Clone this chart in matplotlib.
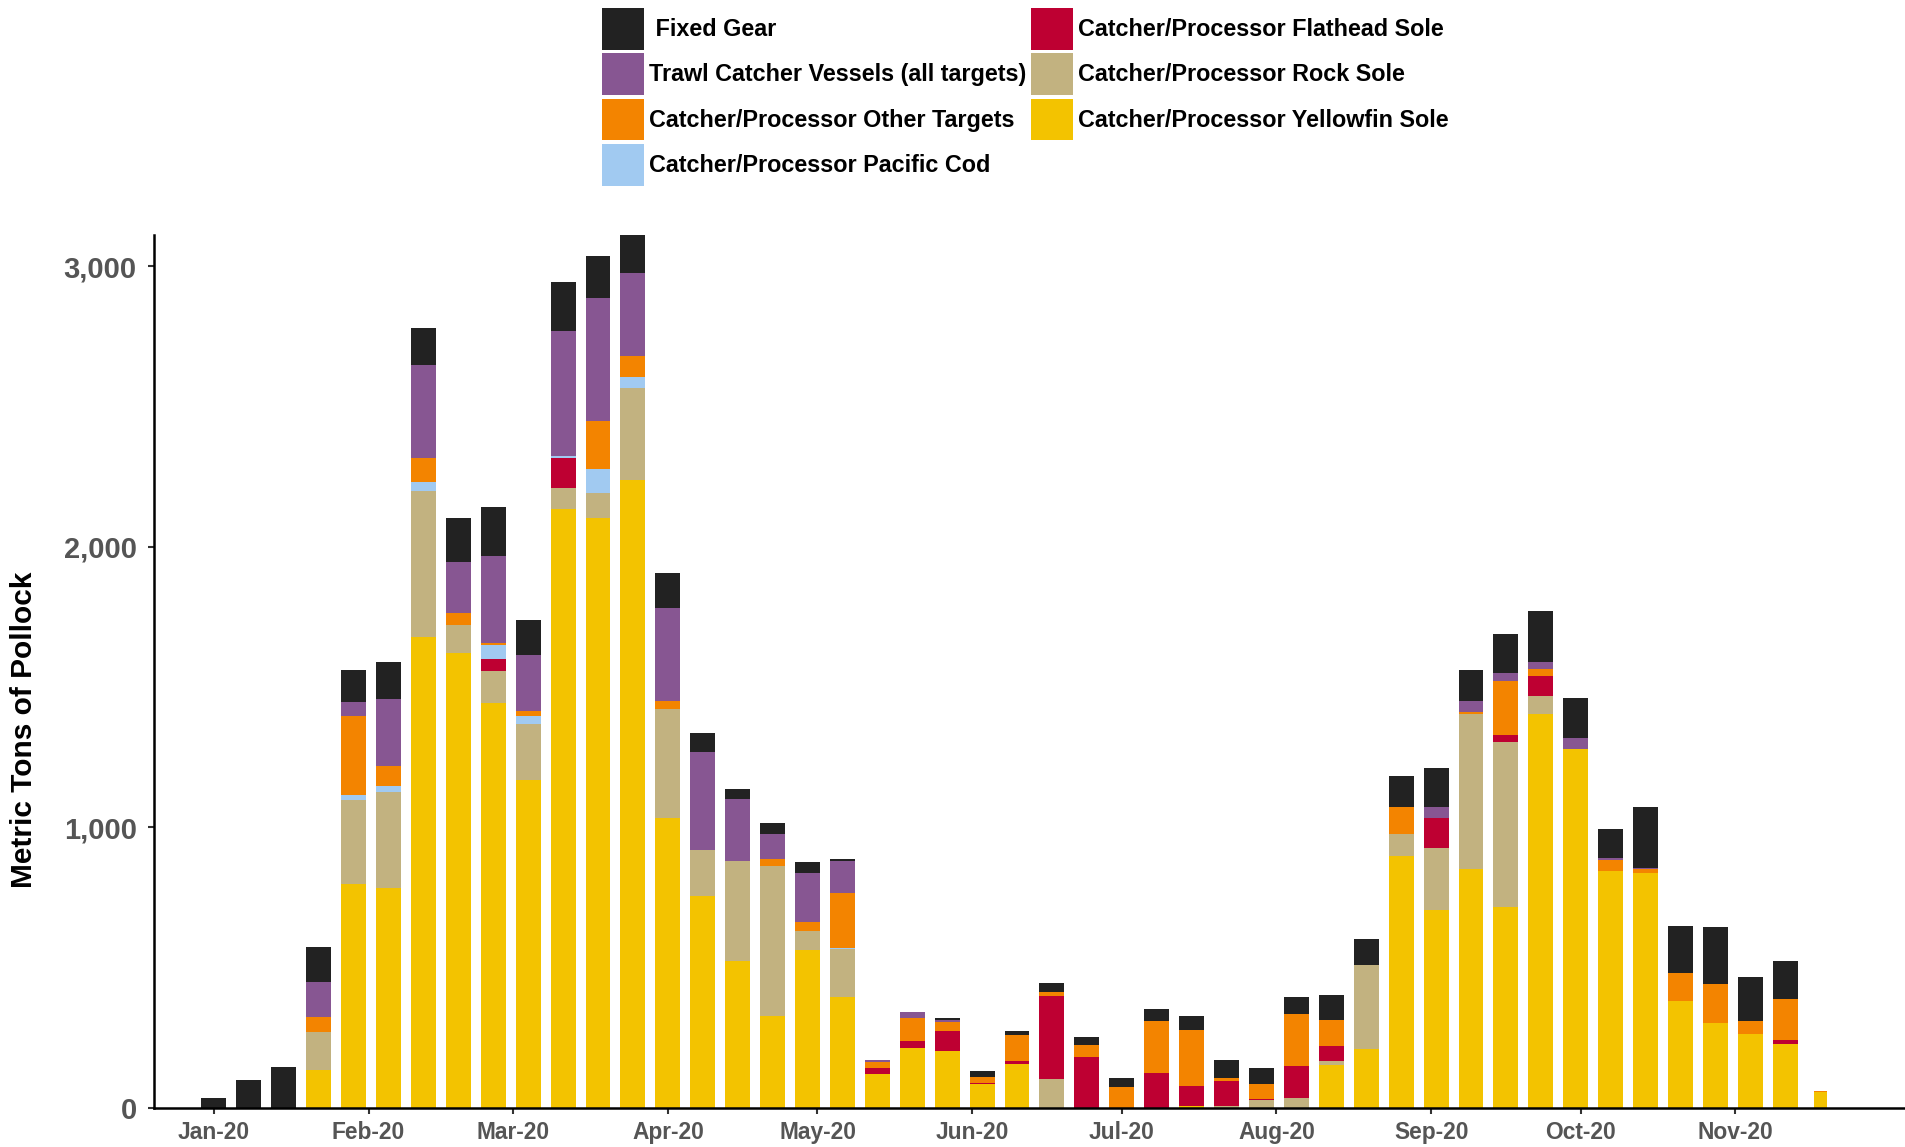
import matplotlib
matplotlib.use("Agg")
import matplotlib.pyplot as plt
import matplotlib.dates as mdates
import numpy as np
import datetime as dt

plt.rcParams['font.family'] = ['Liberation Sans', 'DejaVu Sans']

# ---- data (metric tons of pollock, weekly) ----
week_start = "2020-01-01"
n_weeks = 47

yellowfin = [0, 0, 0, 137, 799, 783, 1678, 1621, 1445, 1169, 2136, 2103, 2238, 1034,
             756, 525, 329, 564, 394, 122, 215, 204, 87, 158, 0, 0, 0, 0, 8, 0,
             0, 0, 153, 211, 897, 705, 852, 717, 1404, 1279, 846, 838, 382, 304, 262, 229, 57]
rock_sole = [0, 0, 0, 135, 300, 343, 521, 100, 112, 200, 73, 88, 327, 388,
             164, 356, 535, 67, 174, 0, 0, 0, 0, 0, 105, 0, 0, 0, 0, 8,
             30, 37, 16, 300, 78, 223, 552, 589, 65, 0, 0, 0, 0, 0, 0, 0, 0]
flathead = [0, 0, 0, 0, 0, 0, 0, 0, 43, 0, 106, 0, 0, 0,
            0, 0, 0, 0, 0, 22, 25, 72, 3, 11, 295, 183, 0, 126, 72, 89,
            3, 114, 53, 0, 0, 106, 0, 24, 72, 0, 0, 0, 0, 0, 0, 14, 0]
pacific_cod = [0, 0, 0, 0, 17, 22, 33, 0, 51, 29, 9, 86, 39, 0,
               0, 0, 0, 0, 2, 0, 0, 0, 0, 0, 0, 0, 0, 0, 0, 0,
               0, 0, 0, 0, 0, 0, 0, 0, 0, 0, 0, 0, 0, 0, 0, 0, 0]
other_targets = [0, 0, 0, 53, 282, 72, 83, 43, 6, 18, 0, 171, 75, 29,
                 0, 0, 25, 33, 196, 21, 82, 32, 22, 92, 15, 43, 76, 185, 199, 11,
                 54, 185, 93, 0, 96, 0, 8, 192, 24, 0, 39, 14, 100, 139, 49, 147, 3]
trawl_cv = [0, 0, 0, 125, 49, 237, 331, 181, 311, 198, 445, 438, 296, 331,
            349, 220, 86, 174, 115, 7, 21, 7, 0, 0, 0, 0, 0, 0, 0, 0,
            0, 0, 0, 0, 0, 39, 39, 29, 25, 41, 6, 4, 0, 0, 0, 0, 0]
fixed_gear = [37, 98, 145, 124, 114, 133, 133, 158, 174, 125, 174, 149, 135, 125,
              68, 37, 41, 37, 8, 0, 0, 7, 21, 15, 32, 28, 32, 43, 50, 64,
              57, 61, 89, 92, 112, 137, 110, 139, 182, 141, 104, 217, 168, 201, 157, 135, 0]

series_names = ["Catcher/Processor Yellowfin Sole", "Catcher/Processor Rock Sole",
                "Catcher/Processor Flathead Sole", "Catcher/Processor Pacific Cod",
                "Catcher/Processor Other Targets", "Trawl Catcher Vessels (all targets)",
                " Fixed Gear"]
series_colors = ["#F3C300", "#C2B280", "#BE0032", "#A1CAF1", "#F38400", "#875692", "#222222"]

month_ticks = ["2020-01-01", "2020-02-01", "2020-03-01", "2020-04-01", "2020-05-01", "2020-06-01",
               "2020-07-01", "2020-08-01", "2020-09-01", "2020-10-01", "2020-11-01"]
month_labels = ["Jan-20", "Feb-20", "Mar-20", "Apr-20", "May-20", "Jun-20",
                "Jul-20", "Aug-20", "Sep-20", "Oct-20", "Nov-20"]
y_ticks = [0, 1000, 2000, 3000]

# ---- figure ----
fig = plt.figure(figsize=(19.05, 11.47), dpi=100)
ax = fig.add_axes([154/1905, 1 - 1108/1147, 1 - 154/1905, (1108 - 235)/1147])

start = np.datetime64(week_start)
dates = np.array([start + np.timedelta64(7 * i, 'D') for i in range(n_weeks)])
x = mdates.date2num(dates.astype('datetime64[D]').astype(dt.datetime))
widths = np.full(n_weeks, 5.0)
widths[-1] = 2.6

data = [yellowfin, rock_sole, flathead, pacific_cod, other_targets, trawl_cv, fixed_gear]
bottom = np.zeros(n_weeks)
containers = {}
for name, vals, col in zip(series_names, data, series_colors):
    vals = np.array(vals, dtype=float)
    containers[name] = ax.bar(x, vals, width=widths, bottom=bottom, color=col,
                              edgecolor='none', linewidth=0, zorder=2)
    bottom += vals

ax.set_xlim(mdates.date2num(dt.datetime(2019, 12, 20)), mdates.date2num(dt.datetime(2020, 12, 5)))
ax.set_ylim(0, 3111)

tick_pos = [mdates.date2num(dt.datetime.strptime(t, "%Y-%m-%d")) for t in month_ticks]
ax.set_xticks(tick_pos)
ax.set_xticklabels(month_labels)
ax.set_yticks(y_ticks)
ax.set_yticklabels([f"{v:,}" for v in y_ticks])

for s in ["top", "right"]:
    ax.spines[s].set_visible(False)
for s in ["left", "bottom"]:
    ax.spines[s].set_linewidth(1.8)
    ax.spines[s].set_color("black")
    ax.spines[s].set_zorder(3)

ax.tick_params(axis='both', direction='out', length=4.5, width=1.5, color='#333333',
               labelcolor='#555555')
ax.tick_params(axis='x', labelsize=16.4, pad=5)
ax.tick_params(axis='y', labelsize=21, pad=8)
for lab in ax.get_xticklabels() + ax.get_yticklabels():
    lab.set_fontweight('bold')

fig.text(24/1905, 1 - 730/1147, "Metric Tons of Pollock", rotation=90, fontsize=21.5,
         fontweight='bold', ha='center', va='center', color='black')

legend_order = [" Fixed Gear", "Trawl Catcher Vessels (all targets)",
                "Catcher/Processor Other Targets", "Catcher/Processor Pacific Cod",
                "Catcher/Processor Flathead Sole", "Catcher/Processor Rock Sole",
                "Catcher/Processor Yellowfin Sole"]
fig.legend([containers[n] for n in legend_order], legend_order, ncol=2,
           loc='upper left', bbox_to_anchor=(602/1905, 1 - 8/1147),
           frameon=False, borderpad=0, borderaxespad=0,
           prop={'size': 16.8, 'weight': 'bold'},
           handlelength=1.8, handleheight=2.36, labelspacing=0.17,
           handletextpad=0.22, columnspacing=0.2)

fig.savefig("out.png", dpi=100)
